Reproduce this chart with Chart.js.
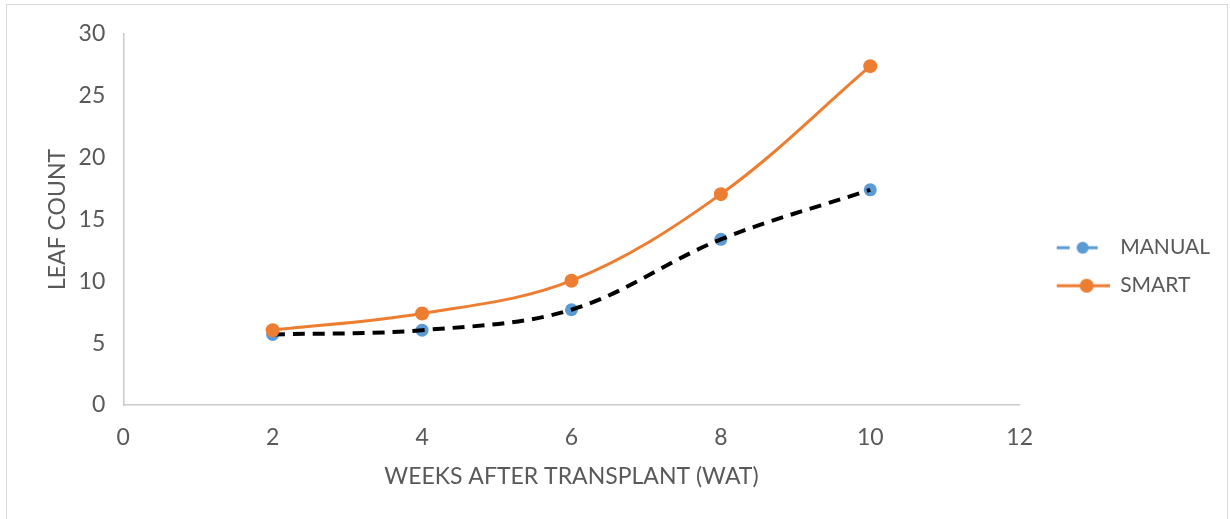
<!DOCTYPE html>
<html lang="en">
<head>
    <meta charset="UTF-8">
    <title>Leaf count</title>
    <script src="https://cdn.jsdelivr.net/npm/chart.js@4.4.3/dist/chart.umd.min.js"></script>
    <style>
        body { margin: 0; background: #fff; }
        #wrap { position: relative; width: 1230px; height: 519px; overflow: hidden; }
        #frame { position: absolute; left: 6px; top: 4px; width: 1220px; height: 540px; border: 1px solid #d9d9d9; pointer-events: none; }
    </style>
</head>
<body>
    <div id="wrap">
        <canvas id="chart" width="1230" height="519"></canvas>
        <div id="frame"></div>
    </div>

    <script>
        // Datos
        const weeks = [2, 4, 6, 8, 10];
        const manual = [5.7, 6.05, 7.7, 13.4, 17.4];
        const smart = [6.05, 7.4, 10.05, 17.05, 27.4];
        const seriesNames = ['MANUAL', 'SMART'];
        const xTitle = 'WEEKS AFTER TRANSPLANT (WAT)';
        const yTitle = 'LEAF COUNT';

        const textColor = '#595959';
        const axisColor = '#c9c9c9';
        const blue = '#5b9bd5';
        const orange = '#ed7d31';
        const fontFamily = 'Lato, "Open Sans", sans-serif';
        const axisFont = { family: fontFamily, size: 23 };

        const toPoints = ys => weeks.map((w, i) => ({ x: w, y: ys[i] }));

        // Icono de leyenda: línea con marcador
        function legendIcon(color, segments, markerX, radius) {
            const c = document.createElement('canvas');
            c.width = 73;
            c.height = 20;
            const g = c.getContext('2d');
            g.strokeStyle = color;
            g.lineWidth = 3;
            segments.forEach(([a, b]) => {
                g.beginPath();
                g.moveTo(a, 10);
                g.lineTo(b, 10);
                g.stroke();
            });
            g.fillStyle = color;
            g.beginPath();
            g.arc(markerX, 10, radius, 0, Math.PI * 2);
            g.fill();
            return c;
        }

        const manualIcon = legendIcon(blue, [[20, 33], [40, 61]], 46, 6);
        const smartIcon = legendIcon(orange, [[20, 73]], 50, 7);

        new Chart(document.getElementById('chart'), {
            type: 'line',
            data: {
                datasets: [{
                    label: seriesNames[1],
                    data: toPoints(smart),
                    borderColor: orange,
                    backgroundColor: orange,
                    borderWidth: 3,
                    tension: 0.35,
                    pointRadius: 7,
                    pointBorderWidth: 0,
                    pointBackgroundColor: orange,
                    order: 0
                }, {
                    label: seriesNames[0],
                    data: toPoints(manual),
                    borderColor: '#000',
                    borderWidth: 4,
                    borderDash: [12, 8],
                    tension: 0.35,
                    pointRadius: 0,
                    order: 1
                }, {
                    label: seriesNames[0],
                    data: toPoints(manual),
                    showLine: false,
                    pointRadius: 6.5,
                    pointBorderWidth: 0,
                    pointBackgroundColor: blue,
                    order: 2
                }]
            },
            options: {
                responsive: false,
                animation: false,
                layout: {
                    padding: { left: 55, top: 34, right: 10, bottom: 29 }
                },
                scales: {
                    x: {
                        type: 'linear',
                        min: 0,
                        max: 12,
                        afterFit: s => { s.height = 85; },
                        grid: { display: false, drawTicks: false },
                        border: { display: true, color: axisColor, width: 1.5 },
                        ticks: { stepSize: 2, padding: 19, color: textColor, font: axisFont },
                        title: {
                            display: true,
                            text: xTitle,
                            color: textColor,
                            font: axisFont,
                            padding: { top: 15, bottom: 0 }
                        }
                    },
                    y: {
                        min: 0,
                        max: 30,
                        grid: { display: false, drawTicks: false },
                        border: { display: true, color: axisColor, width: 1.5 },
                        ticks: { stepSize: 5, padding: 18, color: textColor, font: axisFont },
                        title: {
                            display: true,
                            text: yTitle,
                            color: textColor,
                            font: axisFont,
                            padding: { top: -11, bottom: -11 }
                        }
                    }
                },
                plugins: {
                    tooltip: { enabled: false },
                    legend: {
                        position: 'right',
                        align: 'start',
                        title: { display: true, text: '', font: { size: 1 }, padding: { top: 185, bottom: 0 } },
                        labels: {
                            usePointStyle: true,
                            pointStyleWidth: 73,
                            padding: 17,
                            color: textColor,
                            font: { family: fontFamily, size: 21 },
                            generateLabels: chart => [
                                { text: seriesNames[0], pointStyle: manualIcon, fontColor: textColor, lineWidth: 0, datasetIndex: 1 },
                                { text: seriesNames[1], pointStyle: smartIcon, fontColor: textColor, lineWidth: 0, datasetIndex: 0 }
                            ]
                        }
                    }
                }
            }
        });
    </script>
</body>
</html>
